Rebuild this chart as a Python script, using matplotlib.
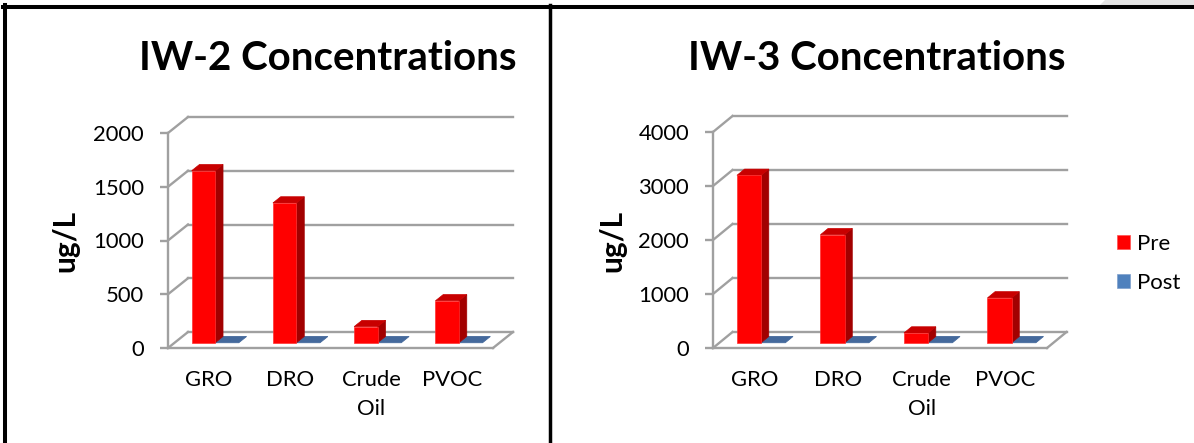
import matplotlib
matplotlib.use("Agg")
import matplotlib.pyplot as plt
from matplotlib.patches import Polygon, Patch
from matplotlib.lines import Line2D

plt.rcParams['font.family'] = ['Lato', 'DejaVu Sans']

# ---------------- data ----------------
categories = ["GRO", "DRO", "Crude\nOil", "PVOC"]
series_names = ["Pre", "Post"]
iw2_pre = [1600, 1300, 150, 390]
iw2_post = [0, 0, 0, 0]
iw3_pre = [3100, 2000, 180, 830]
iw3_post = [0, 0, 0, 0]
iw2_ticks = [0, 500, 1000, 1500, 2000]
iw3_ticks = [0, 1000, 2000, 3000, 4000]
titles = ["IW-2 Concentrations", "IW-3 Concentrations"]
ylabel = "ug/L"

# ---------------- style ----------------
FW, FH = 1194, 443
RED, RED_SIDE, RED_TOP = "#FF0000", "#A20000", "#C80000"
BLUE, BLUE_TOP = "#4F81BD", "#44699C"
GRID = "#A0A0A0"

fig = plt.figure(figsize=(FW / 100, FH / 100), dpi=100)


def fx(px):
    return px / FW


def fy(py):
    return (FH - py) / FH


def make_chart(left_px, right_px, top_px, base_px, ticks, pre, post, depth_px):
    ymax = ticks[-1]
    W = right_px - left_px
    H = base_px - top_px
    ax = fig.add_axes([fx(left_px), fy(base_px), W / FW, H / FH])
    ax.set_xlim(-0.5, len(categories) - 0.5)
    ax.set_ylim(0, ymax)
    ax.patch.set_visible(False)
    ppx = W / len(categories)
    ppy = H / ymax
    DX, DY = depth_px
    dxd, dyd = DX / ppx, DY / ppy

    def P(x, y, d):
        return (x + d * dxd, y + d * dyd)

    x_lo, x_hi = -0.5, len(categories) - 0.5
    # back wall gridlines and side wall diagonals
    for t in ticks:
        ax.add_line(Line2D([P(x_lo, t, 1)[0], P(x_hi, t, 1)[0]],
                           [P(x_lo, t, 1)[1], P(x_hi, t, 1)[1]],
                           color=GRID, lw=1.7, clip_on=False, zorder=1))
        ax.add_line(Line2D([x_lo, P(x_lo, t, 1)[0]], [t, P(x_lo, t, 1)[1]],
                           color=GRID, lw=1.7, clip_on=False, zorder=1))
    # floor right edge
    ax.add_line(Line2D([x_hi, P(x_hi, 0, 1)[0]], [0, P(x_hi, 0, 1)[1]],
                       color=GRID, lw=1.7, clip_on=False, zorder=1))

    w = 0.29
    d0, d1 = 0.33, 0.72
    for i, (vpre, vpost) in enumerate(zip(pre, post)):
        # post (flat, blue)
        x0, x1 = i, i + w
        ax.add_patch(Polygon([P(x0, vpost, d0), P(x1, vpost, d0), P(x1, vpost, d1), P(x0, vpost, d1)],
                             closed=True, facecolor=BLUE_TOP, edgecolor=BLUE_TOP, lw=0.6,
                             clip_on=False, zorder=3))
        # pre (red box)
        x0, x1 = i - w, i
        ax.add_patch(Polygon([P(x1, 0, d0), P(x1, 0, d1), P(x1, vpre, d1), P(x1, vpre, d0)],
                             closed=True, facecolor=RED_SIDE, edgecolor=RED_SIDE, lw=0.5,
                             clip_on=False, zorder=4))
        ax.add_patch(Polygon([P(x0, vpre, d0), P(x1, vpre, d0), P(x1, vpre, d1), P(x0, vpre, d1)],
                             closed=True, facecolor=RED_TOP, edgecolor=RED_TOP, lw=0.5,
                             clip_on=False, zorder=4))
        ax.add_patch(Polygon([P(x0, 0, d0), P(x1, 0, d0), P(x1, vpre, d0), P(x0, vpre, d0)],
                             closed=True, facecolor=RED, edgecolor="#FF3030", lw=0.5,
                             clip_on=False, zorder=5))

    for s in ("top", "right"):
        ax.spines[s].set_visible(False)
    for s in ("left", "bottom"):
        ax.spines[s].set_color(GRID)
        ax.spines[s].set_linewidth(1.7)
        ax.spines[s].set_zorder(2)
    ax.set_yticks(ticks)
    ax.set_yticklabels([str(t) for t in ticks])
    ax.tick_params(axis="y", length=5.8, width=1.7, color=GRID, labelsize=15.8,
                   pad=11.5, labelcolor="black")
    ax.set_xticks(range(len(categories)))
    ax.set_xticklabels(categories, linespacing=1.55)
    ax.tick_params(axis="x", length=0, labelsize=15.8, pad=16, labelcolor="black")
    return ax


ax1 = make_chart(168, 493, 133, 348, iw2_ticks, iw2_pre, iw2_post, (20, 16))
ax2 = make_chart(713, 1047, 132, 348, iw3_ticks, iw3_pre, iw3_post, (19.5, 16))

fig.text(fx(328), fy(70), titles[0], ha="center", va="baseline", fontsize=29, fontweight="bold")
fig.text(fx(877), fy(70), titles[1], ha="center", va="baseline", fontsize=29, fontweight="bold")
fig.text(fx(65), fy(241), ylabel, ha="center", va="center", rotation=90, fontsize=21.5, fontweight="bold")
fig.text(fx(612), fy(241), ylabel, ha="center", va="center", rotation=90, fontsize=21.5, fontweight="bold")

# legend
handles = [Patch(facecolor=RED, edgecolor="#FF5050", lw=0.5, label=series_names[0]),
           Patch(facecolor=BLUE, edgecolor="#7FA0CC", lw=0.5, label=series_names[1])]
fig.legend(handles=handles, loc="center left", bbox_to_anchor=(fx(1117), fy(263.5)),
           frameon=False, fontsize=16, handlelength=0.6, handleheight=0.6,
           handletextpad=0.3, labelspacing=0.85, borderpad=0, borderaxespad=0)

# frame lines
fig.add_artist(Polygon([(fx(1100), fy(5)), (fx(1105), fy(0)), (fx(1194), fy(0)), (fx(1194), fy(5))],
                       closed=True, facecolor="#E3E3E3", edgecolor="none", transform=fig.transFigure))
fig.add_artist(Line2D([fx(3), fx(1194)], [fy(7), fy(7)], color="black", lw=2.9, transform=fig.transFigure))
fig.add_artist(Line2D([fx(5), fx(5)], [fy(5), fy(443)], color="black", lw=2.9, transform=fig.transFigure))
fig.add_artist(Line2D([fx(549.5), fx(549.5)], [fy(5), fy(443)], color="black", lw=2.5, transform=fig.transFigure))

fig.savefig("out.png", dpi=100)
